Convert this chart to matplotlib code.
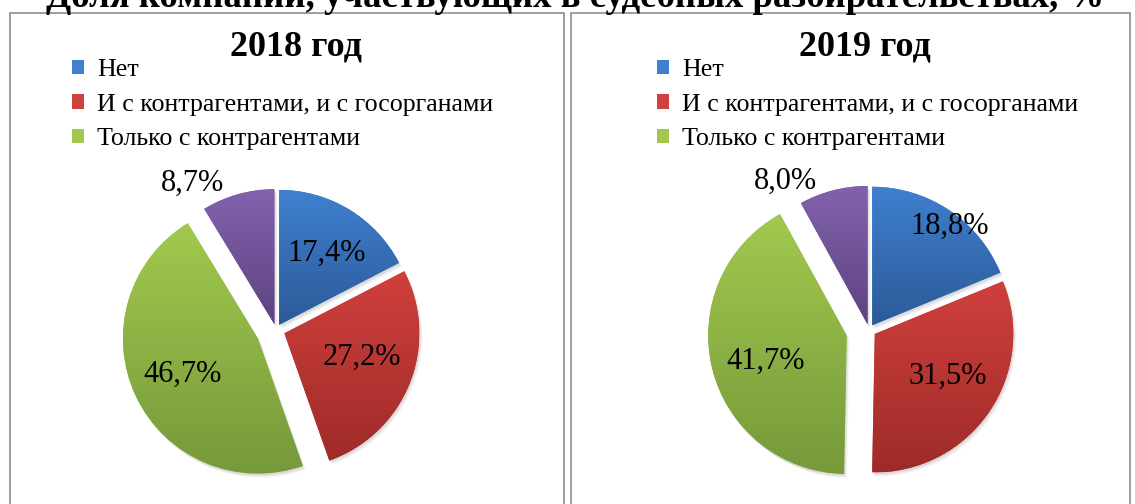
import numpy as np
import matplotlib.pyplot as plt
from matplotlib.colors import LinearSegmentedColormap
from matplotlib.patches import Rectangle, Wedge

plt.rcParams['font.family'] = ['Liberation Serif', 'DejaVu Serif']

title = 'Доля компаний, участвующих в судебных разбирательствах, %'
years = ['2018 год', '2019 год']
legend_labels = ['Нет', 'И с контрагентами, и с госорганами', 'Только с контрагентами']

# доли по годам: нет, и с контрагентами и с госорганами, только с контрагентами, прочие
shares_2018 = [17.4, 27.2, 46.7, 8.7]
shares_2019 = [18.8, 31.5, 41.7, 8.0]

# градиент сверху вниз для каждого сектора
top_colors = ['#3f80cf', '#d0403d', '#a2c94e', '#8262ad']
bottom_colors = ['#2c5a98', '#9e2b29', '#76993a', '#5d4381']

W, H = 1135, 504
fig = plt.figure(figsize=(W / 100, H / 100), dpi=100)
ax = fig.add_axes([0, 0, 1, 1])


def py(y):
    # пиксели сверху -> координаты осей снизу
    return H - y


def draw_pie(shares, cx, cy, r, explode, dist, shift):
    # explode задан в пикселях (единицах данных)
    wedges, _ = ax.pie(shares, center=(cx, py(cy)), radius=r, startangle=90,
                       counterclock=False, explode=explode, colors=top_colors,
                       wedgeprops=dict(linewidth=0), frame=True)
    for w, top, bottom in zip(wedges, top_colors, bottom_colors):
        w.set_zorder(2)
        # мягкая тень
        for k, a in enumerate([0.10, 0.08, 0.06]):
            sh = Wedge((w.center[0] + 1 + k, w.center[1] - 2 - k), w.r,
                       w.theta1, w.theta2, color='#606060', alpha=a,
                       linewidth=0, zorder=1)
            ax.add_patch(sh)
        bb = w.get_path().get_extents(w.get_patch_transform())
        grad = np.linspace(0, 1, 256).reshape(-1, 1)
        cmap = LinearSegmentedColormap.from_list('g', [top, bottom])
        im = ax.imshow(grad, extent=(bb.x0, bb.x1, bb.y0, bb.y1),
                       origin='upper', cmap=cmap, aspect='auto', zorder=3)
        im.set_clip_path(w)
    # подписи процентов
    for w, v, d, da in zip(wedges, shares, dist, shift):
        mid = np.deg2rad((w.theta1 + w.theta2) / 2 + da)
        x = cx + d * r * np.cos(mid)
        y = py(cy) + d * r * np.sin(mid)
        ax.text(x, y, f'{v:.1f}%'.replace('.', ','), ha='center', va='center',
                fontsize=22, zorder=5)
    return wedges


w18 = draw_pie(shares_2018, 276, 330, 135, [6, 9, 20, 6],
               [0.68, 0.67, 0.77, 1.25], [-2, 4, 0, 14])
w19 = draw_pie(shares_2019, 869, 330, 138.5, [5.7, 7, 23, 5.7],
               [0.95, 0.66, 0.78, 1.23], [-4, 4, 3, 15])

# рамки областей диаграмм
for x0, x1 in [(10, 564), (571, 1130)]:
    ax.add_patch(Rectangle((x0, py(520)), x1 - x0, 520 - 13, fill=False,
                           edgecolor='#8e8e8e', linewidth=1.2, zorder=0))

ax.text(296, py(55), years[0], ha='center', va='baseline', fontsize=26,
        fontweight='bold')
ax.text(865, py(55), years[1], ha='center', va='baseline', fontsize=26,
        fontweight='bold')
ax.text(W / 2 + 8, py(7), title, ha='center', va='baseline', fontsize=26.5,
        fontweight='bold')

leg_kw = dict(loc='upper left', frameon=False, fontsize=18.7, borderpad=0,
              borderaxespad=0, handlelength=0.46, handleheight=0.46,
              handletextpad=0.5, labelspacing=0.49,
              bbox_transform=ax.transData)
leg1 = ax.legend(w18[:3], legend_labels, bbox_to_anchor=(72, py(59)), **leg_kw)
ax.add_artist(leg1)
ax.legend(w19[:3], legend_labels, bbox_to_anchor=(657, py(59)), **leg_kw)

ax.set_xlim(0, W)
ax.set_ylim(0, H)
ax.set_aspect('auto')
ax.axis('off')

fig.savefig('out.png', dpi=100)
